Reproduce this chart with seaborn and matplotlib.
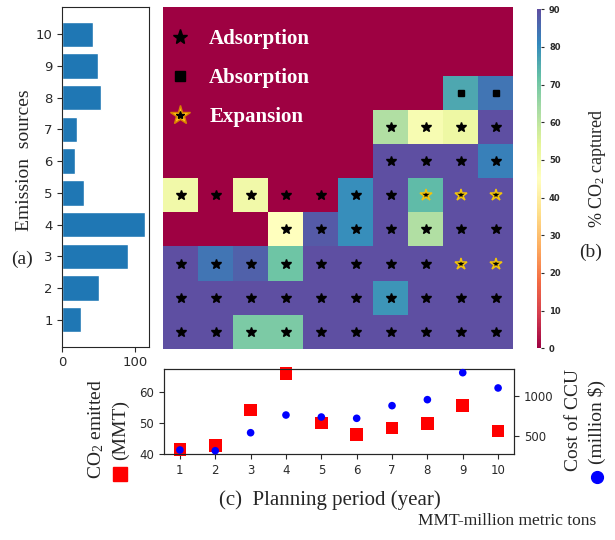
import numpy as np
import pandas as pd
import matplotlib
matplotlib.use("Agg")
import matplotlib.pyplot as plt
from matplotlib.lines import Line2D
import seaborn as sns

# ---- data -------------------------------------------------------------
sources = [1, 2, 3, 4, 5, 6, 7, 8, 9, 10]
periods = [1, 2, 3, 4, 5, 6, 7, 8, 9, 10]

# CO2 emitted by each emission source (MMT)
source_emissions = [25.7, 50.5, 90.0, 113.9, 29.5, 17.5, 20.2, 53.2, 49.5, 42.6]

# % CO2 captured: one row per source (1..10), one column per planning period
captured = [
    [90, 90, 69, 69, 90, 90, 90, 90, 90, 90],
    [90, 90, 90, 90, 90, 90, 79, 90, 90, 90],
    [90, 84, 87, 71, 90, 90, 90, 90, 90, 90],
    [0, 0, 0, 45, 88, 80, 90, 62, 90, 90],
    [50, 0, 50, 0, 0, 80, 90, 73, 90, 90],
    [0, 0, 0, 0, 0, 0, 90, 90, 90, 82],
    [0, 0, 0, 0, 0, 0, 62, 48, 51, 90],
    [0, 0, 0, 0, 0, 0, 0, 0, 76, 84],
    [0, 0, 0, 0, 0, 0, 0, 0, 0, 0],
    [0, 0, 0, 0, 0, 0, 0, 0, 0, 0],
]

# capture technology per cell: A adsorption, B absorption, E expansion, . none
technology = [
    "AAAAAAAAAA",
    "AAAAAAAAAA",
    "AAAAAAAAEE",
    "...AAAAAAA",
    "AAAAAAAEEE",
    "......AAAA",
    "......AAAA",
    "........BB",
    "..........",
    "..........",
]

# yearly totals
co2_emitted = [41.5, 42.7, 54.2, 65.9, 50.0, 46.2, 48.4, 49.8, 55.7, 47.4]
ccu_cost = [325, 316, 541, 762, 737, 721, 879, 954, 1291, 1100]

# ---- style ------------------------------------------------------------
sns.set_style("ticks")
plt.rcParams["font.family"] = ["DejaVu Sans"]
plt.rcParams["mathtext.fontset"] = "custom"
plt.rcParams["mathtext.rm"] = "Liberation Serif"
plt.rcParams["mathtext.it"] = "Liberation Serif:italic"
SERIF = "Liberation Serif"
TICK_COLOR = "#2a2a2a"

W, H = 615, 540
fig = plt.figure(figsize=(W / 100, H / 100), dpi=100)


def box(x0, y0, x1, y1):
    return [x0 / W, 1 - y1 / H, (x1 - x0) / W, (y1 - y0) / H]


ax_bar = fig.add_axes(box(62.3, 6.7, 148.7, 346.7))
ax_map = fig.add_axes(box(163.3, 7.3, 513.3, 349))
ax_cb = fig.add_axes(box(536.7, 9.3, 540.7, 348.3))
ax_ts = fig.add_axes(box(164, 369, 514, 454))
ax_cost = ax_ts.twinx()

# ---- (a) emissions per source ----------------------------------------
bars = pd.DataFrame({"source": sources, "emission": source_emissions})
sns.barplot(data=bars, x="emission", y="source", orient="h", native_scale=True,
            color="#1f77b4", saturation=1, ax=ax_bar)
if ax_bar.yaxis_inverted():
    ax_bar.invert_yaxis()
ax_bar.set_yticks(sources)
ax_bar.set_xticks([0, 100])
ax_bar.set_xlim(0, 119)
ax_bar.set_ylim(0.15, 10.87)
ax_bar.set_xlabel("")
ax_bar.set_ylabel("")
ax_bar.tick_params(labelsize=9.5, colors=TICK_COLOR, length=3.5, width=0.8)

# ---- (b) capture heatmap ---------------------------------------------
grid = pd.DataFrame(captured, index=sources, columns=periods).iloc[::-1]
sns.heatmap(grid, cmap="Spectral", vmin=0, vmax=90, ax=ax_map, cbar_ax=ax_cb,
            cbar_kws={"ticks": list(range(0, 91, 10))},
            xticklabels=False, yticklabels=False)
ax_map.set_xlabel("")
ax_map.set_ylabel("")
ax_map.tick_params(length=0)

row_pos = {s: i for i, s in enumerate(grid.index)}
col_pos = {p: j for j, p in enumerate(grid.columns)}
marks = {"A": ([], []), "B": ([], []), "E": ([], [])}
for s, codes in zip(sources, technology):
    for p, code in zip(periods, codes):
        if code in marks:
            marks[code][0].append(col_pos[p] + 0.5)
            marks[code][1].append(row_pos[s] + 0.5)

ax_map.plot(*marks["A"], ls="", marker="*", ms=7, color="black")
ax_map.plot(*marks["B"], ls="", marker="s", ms=5, color="black")
ax_map.plot(*marks["E"], ls="", marker="*", ms=9, mfc="black",
            mec="#f2c40c", mew=1.1)

h_ads = Line2D([], [], ls="", marker="*", ms=11, color="black")
h_abs = Line2D([], [], ls="", marker="s", ms=7, color="black")
h_exp_out = Line2D([], [], ls="", marker="*", ms=15, mfc="#ffc41a",
                   mec="#d98200", mew=1.0)
h_exp_in = Line2D([], [], ls="", marker="*", ms=6, color="black")
ax_map.legend([h_ads, h_abs, (h_exp_out, h_exp_in)],
              ["Adsorption", "Absorption", "Expansion"],
              loc="upper left", bbox_to_anchor=(0, 0.955), frameon=False,
              labelcolor="white",
              prop={"family": SERIF, "weight": "bold", "size": 15},
              handlelength=1.0, handletextpad=0.9, borderpad=0.3,
              borderaxespad=0.0, labelspacing=0.92)

ax_cb.tick_params(labelsize=6, colors=TICK_COLOR, length=2.5, width=0.8)
for t in ax_cb.get_yticklabels():
    t.set_fontweight("bold")

# ---- (c) yearly emissions and cost ------------------------------------
ts = pd.DataFrame({"period": periods, "emitted": co2_emitted, "cost": ccu_cost})
sns.scatterplot(data=ts, x="period", y="emitted", marker="s", s=85,
                color="red", edgecolor="none", ax=ax_ts, clip_on=False, zorder=3)
sns.scatterplot(data=ts, x="period", y="cost", marker="o", s=30,
                color="blue", edgecolor="none", ax=ax_cost, clip_on=False, zorder=3)
ax_ts.set_xticks(periods)
ax_ts.set_xlim(0.55, 10.45)
ax_ts.set_ylim(40, 67.4)
ax_ts.set_yticks([40, 50, 60])
ax_cost.set_ylim(275, 1337)
ax_cost.set_yticks([500, 1000])
for a in (ax_ts, ax_cost):
    a.set_xlabel("")
    a.set_ylabel("")
    a.tick_params(labelsize=8.5, colors=TICK_COLOR, length=3.5, width=0.8)

# ---- labels -----------------------------------------------------------
fig.text(25 / W, 1 - 160 / H, "Emission  sources", family=SERIF, size=14,
         rotation=90, ha="center", va="center")
fig.text(22 / W, 1 - 259 / H, "(a)", family=SERIF, size=14, ha="center", va="center")
fig.text(598 / W, 1 - 168 / H, "% CO$_\\mathrm{2}$ captured", family=SERIF, size=13,
         rotation=90, ha="center", va="center")
fig.text(591 / W, 1 - 252 / H, "(b)", family=SERIF, size=14, ha="center", va="center")

fig.text(96 / W, 1 - 429 / H, "CO$_\\mathrm{2}$ emitted", family=SERIF, size=14,
         rotation=90, ha="center", va="center")
fig.text(120 / W, 1 - 430 / H, "(MMT)", family=SERIF, size=14,
         rotation=90, ha="center", va="center")
fig.text(574 / W, 1 - 420 / H, "Cost of CCU", family=SERIF, size=14,
         rotation=90, ha="center", va="center")
fig.text(597 / W, 1 - 422 / H, "(million $)", family=SERIF, size=14,
         rotation=90, ha="center", va="center")
fig.legend([Line2D([], [], ls="", marker="s", ms=10, color="red")], [""],
           loc="center", bbox_to_anchor=(120 / W, 1 - 475 / H), frameon=False,
           handlelength=0, handletextpad=0, borderpad=0)
fig.legend([Line2D([], [], ls="", marker="o", ms=8.5, color="blue")], [""],
           loc="center", bbox_to_anchor=(597 / W, 1 - 478 / H), frameon=False,
           handlelength=0, handletextpad=0, borderpad=0)

fig.text(330 / W, 1 - 500 / H, "(c)  Planning period (year)", family=SERIF,
         size=15, ha="center", va="center")
fig.text(596 / W, 1 - 521 / H, "MMT-million metric tons", family=SERIF,
         size=12.5, ha="right", va="center")

fig.savefig("out.png", dpi=100)
